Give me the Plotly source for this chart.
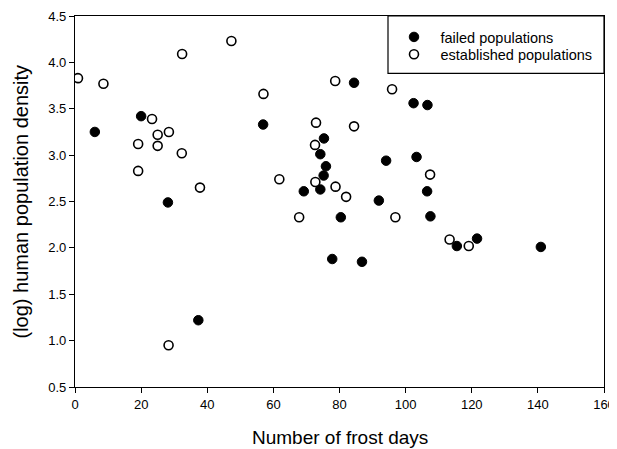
import plotly.graph_objects as go

failed_x = [6.0, 20.0, 28.1, 37.3, 56.9, 75.3, 74.2, 75.9, 75.2, 69.2, 74.2, 77.8, 80.4,
            84.4, 102.4, 106.6, 94.1, 103.3, 106.5, 91.9, 107.5, 115.5, 121.6, 140.9, 86.8]
failed_y = [3.25, 3.42, 2.49, 1.22, 3.33, 3.18, 3.01, 2.88, 2.78, 2.61, 2.63, 1.88, 2.33,
            3.78, 3.56, 3.54, 2.94, 2.98, 2.61, 2.51, 2.34, 2.02, 2.10, 2.01, 1.85]

est_x = [0.9, 8.6, 32.4, 47.3, 23.3, 19.1, 25.0, 25.0, 28.4, 32.3, 19.1, 37.8, 57.0, 78.7,
         72.9, 72.6, 72.7, 61.8, 78.8, 67.8, 28.3, 95.9, 84.4, 107.4, 82.0, 96.9, 113.3, 119.1]
est_y = [3.83, 3.77, 4.09, 4.23, 3.39, 3.12, 3.22, 3.10, 3.25, 3.02, 2.83, 2.65, 3.66, 3.80,
         3.35, 3.11, 2.71, 2.74, 2.66, 2.33, 0.95, 3.71, 3.31, 2.79, 2.55, 2.33, 2.09, 2.02]

x_ticks = [0, 20, 40, 60, 80, 100, 120, 140, 160]
y_ticks = [0.5, 1.0, 1.5, 2.0, 2.5, 3.0, 3.5, 4.0, 4.5]

FONT = "Liberation Sans, Arial, sans-serif"

# page body has an 8px margin; work in figure coordinates (reference px - 8)
OFF = 8
W, H = 617 - OFF, 449 - OFF
L, R, T, B = 75 - OFF, 604 - OFF, 15.7 - OFF, 386.7 - OFF
PW, PH = R - L, B - T


def px_x(p):
    return (p - OFF - L) / PW


def px_y(p):
    return (B - (p - OFF)) / PH


fig = go.Figure()
fig.add_trace(go.Scatter(x=failed_x, y=failed_y, mode="markers", name="failed populations",
                         legend="legend",
                         marker=dict(size=9.5, color="black", line=dict(color="black", width=1))))
fig.add_trace(go.Scatter(x=est_x, y=est_y, mode="markers", name="established populations",
                         legend="legend2",
                         marker=dict(size=9, color="white", line=dict(color="black", width=1.6))))

fig.add_shape(type="rect", xref="paper", yref="paper",
              x0=px_x(388), x1=1.0, y0=px_y(73), y1=1.0,
              line=dict(color="black", width=1.2), fillcolor="white", layer="above")

fig.add_annotation(text="Number of frost days", xref="paper", yref="paper",
                   x=0.5, y=px_y(437), xanchor="center", yanchor="middle",
                   showarrow=False, font=dict(size=19, family=FONT))
fig.add_annotation(text="(log) human population density", xref="paper", yref="paper",
                   x=px_x(20), y=0.5, xanchor="center", yanchor="middle", textangle=-90,
                   showarrow=False, font=dict(size=20, family=FONT))

leg_common = dict(xanchor="left", yanchor="middle", bgcolor="rgba(0,0,0,0)", borderwidth=0,
                  font=dict(size=14.5, family=FONT), itemwidth=43)
fig.update_layout(
    width=W, height=H,
    margin=dict(l=L, r=W - R, t=T, b=H - B),
    plot_bgcolor="white", paper_bgcolor="white",
    font=dict(family=FONT, color="black", size=13),
    showlegend=True,
    legend=dict(x=px_x(387.5), y=px_y(36.7), **leg_common),
    legend2=dict(x=px_x(387.5), y=px_y(54), **leg_common),
    xaxis=dict(range=[0, 160], tickvals=x_ticks, showline=True, linecolor="black", linewidth=1.3,
               mirror=True, ticks="outside", ticklen=5, tickcolor="black", tickwidth=1.2,
               showgrid=False, zeroline=False, tickfont=dict(size=13), automargin=False),
    yaxis=dict(range=[0.5, 4.5], tickvals=y_ticks, tickformat=".1f", showline=True,
               linecolor="black", linewidth=1.3, mirror=True, ticks="outside", ticklen=5,
               tickcolor="black", tickwidth=1.2, showgrid=False, zeroline=False,
               tickfont=dict(size=13), automargin=False),
)

fig.write_html("out.html")
